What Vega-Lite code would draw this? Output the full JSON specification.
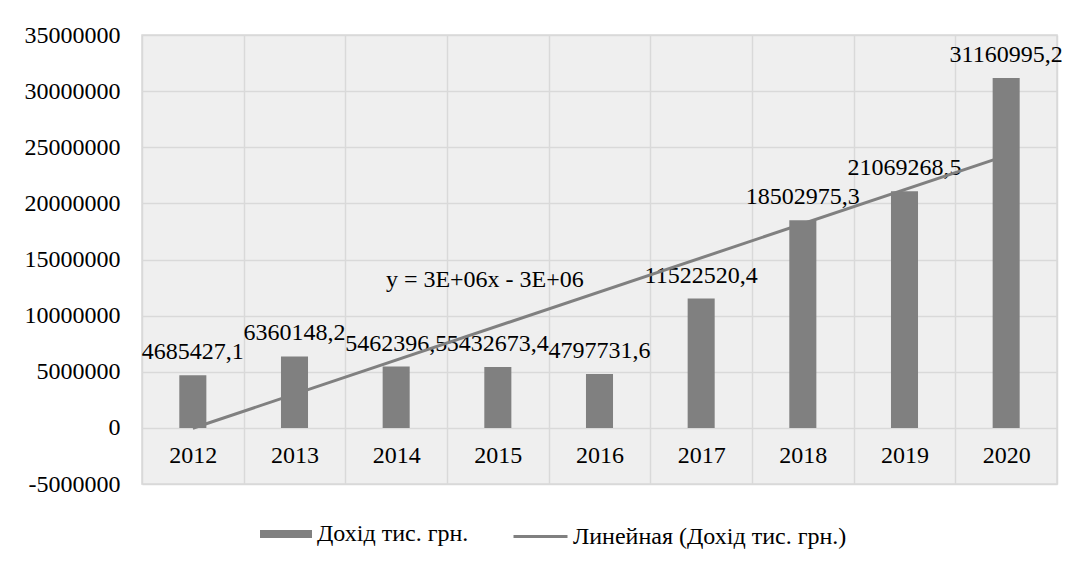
{
  "$schema": "https://vega.github.io/schema/vega-lite/v6.json",
  "width": 915,
  "height": 449,
  "autosize": {"type": "none"},
  "padding": {"left": 142, "top": 35, "right": 20, "bottom": 83},
  "background": "white",
  "config": {
    "locale": {"number": {"decimal": ",", "thousands": "", "grouping": [3], "currency": ["", ""], "minus": "-"}},
    "font": "Liberation Serif, Times New Roman, serif",
    "view": {"fill": "#efefef", "stroke": "#d9d9d9", "strokeWidth": 1.5}
  },
  "datasets": {
    "income": [
      {"year": "2012", "value": 4685427.1},
      {"year": "2013", "value": 6360148.2},
      {"year": "2014", "value": 5462396.5},
      {"year": "2015", "value": 5432673.4},
      {"year": "2016", "value": 4797731.6},
      {"year": "2017", "value": 11522520.4},
      {"year": "2018", "value": 18502975.3},
      {"year": "2019", "value": 21069268.5},
      {"year": "2020", "value": 31160995.2}
    ],
    "trend": [
      {"year": "2012", "value": -36250},
      {"year": "2020", "value": 24257168}
    ],
    "equation": [
      {"year": "2015", "value": 13180000, "label": "y = 3E+06x - 3E+06"}
    ]
  },
  "encoding": {
    "x": {
      "field": "year",
      "type": "ordinal",
      "sort": null,
      "scale": {"paddingInner": 0, "paddingOuter": 0},
      "axis": {
        "title": null,
        "orient": "bottom",
        "offset": -56,
        "domain": false,
        "ticks": false,
        "tickBand": "extent",
        "grid": true,
        "gridColor": "#d9d9d9",
        "gridWidth": 1.5,
        "labelAngle": 0,
        "labelFont": "Liberation Serif, Times New Roman, serif",
        "labelFontSize": 24,
        "labelColor": "#000000",
        "labelPadding": 15
      }
    },
    "y": {
      "field": "value",
      "type": "quantitative",
      "scale": {"domain": [-5000000, 35000000], "nice": false, "zero": false},
      "axis": {
        "title": null,
        "values": [-5000000, 0, 5000000, 10000000, 15000000, 20000000, 25000000, 30000000, 35000000],
        "format": "d",
        "domain": false,
        "ticks": false,
        "grid": true,
        "gridColor": "#d9d9d9",
        "gridWidth": 1.5,
        "labelFont": "Liberation Serif, Times New Roman, serif",
        "labelFontSize": 24,
        "labelColor": "#000000",
        "labelPadding": 22
      }
    }
  },
  "layer": [
    {
      "data": {"name": "income"},
      "mark": {"type": "bar", "color": "#808080", "width": {"band": 0.266}},
      "encoding": {
        "fill": {
          "datum": "Дохід тис. грн.",
          "scale": {"range": ["#808080"]},
          "legend": {
            "title": null,
            "orient": "none",
            "legendX": 118,
            "legendY": 473,
            "symbolType": "M-1,-0.154H1V0.154H-1Z",
            "symbolSize": 2704,
            "symbolStrokeWidth": 0,
            "labelFont": "Liberation Serif, Times New Roman, serif",
            "labelFontSize": 24,
            "labelColor": "#000000",
            "labelOffset": 5,
            "labelLimit": 500
          }
        }
      }
    },
    {
      "data": {"name": "income"},
      "mark": {"type": "text", "fontSize": 24, "font": "Liberation Serif, Times New Roman, serif", "color": "#000000", "baseline": "alphabetic", "dy": -16},
      "encoding": {
        "text": {"field": "value", "type": "quantitative", "format": ".1f"}
      }
    },
    {
      "data": {"name": "trend"},
      "mark": {"type": "line", "strokeWidth": 3},
      "encoding": {
        "stroke": {
          "datum": "Линейная (Дохід тис. грн.)",
          "scale": {"range": ["#808080"]},
          "legend": {
            "title": null,
            "orient": "none",
            "legendX": 370,
            "legendY": 473,
            "symbolType": "stroke",
            "symbolSize": 2916,
            "symbolStrokeWidth": 3,
            "labelFont": "Liberation Serif, Times New Roman, serif",
            "labelFontSize": 24,
            "labelColor": "#000000",
            "labelOffset": 4,
            "labelLimit": 500
          }
        }
      }
    },
    {
      "data": {"name": "equation"},
      "mark": {"type": "text", "fontSize": 24, "font": "Liberation Serif, Times New Roman, serif", "color": "#000000", "baseline": "middle", "dx": -13},
      "encoding": {
        "text": {"field": "label", "type": "nominal"}
      }
    }
  ]
}
